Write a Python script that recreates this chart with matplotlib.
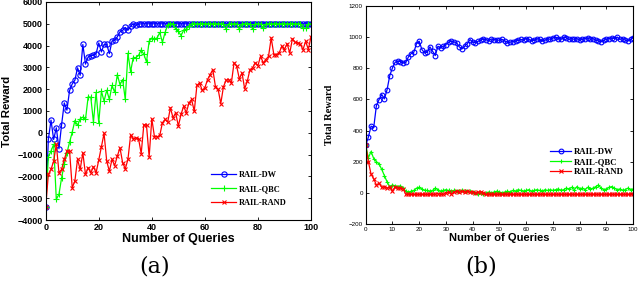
import numpy as np
import matplotlib
matplotlib.use('Agg')
import matplotlib.pyplot as plt

# ---- panel (a) data ----
queries_a = np.arange(0, 101)

dw_a = [-3390, -305, 580, -305, 230, -730, 380, 1370, 1040, 1940,
        2240, 2410, 2980, 2640, 4050, 3150, 3480, 3530, 3560, 3630,
        4120, 3710, 4050, 4060, 3630, 4210, 4240, 4400, 4630, 4700,
        4830, 4700, 4890, 5000, 4930, 4980] + [5000] * 65

qbc_a = [-3390, -1100, -840, -530, -3050, -2820, -2060, -1450, -920, -430,
         30, 560, 340, 640, 720, 610, 1650, 1630, 490, 1860,
         460, 1910, 1450, 1950, 1530, 2170, 1860, 2670, 2210, 2440,
         1530, 3650, 2800, 3450, 3450, 3550, 3800, 3600, 3250, 4200,
         4350, 4300, 4350, 4600, 4150, 4600, 4950, 5000, 5000, 4760,
         4660, 4460, 4700, 4760, 4890, 5000, 5000, 5000, 5000, 5000,
         5000, 5000, 5000, 5000, 5000, 5000, 5000, 5000, 4760, 5000,
         5000, 5000, 5000, 4750, 5000, 5000, 5000, 5000, 4760, 5000,
         5000, 5000, 4790, 5000, 5000, 5000, 5000, 5000, 5000, 5000,
         5000, 5000, 5000, 5000, 5000, 5000, 5000, 4790, 4790, 5000,
         5000]

rand_a = [-3390, -1910, -1680, -1300, -530, -1830, -1680, -1220, -840, -840,
          -2520, -2210, -1220, -1680, -920, -1910, -1600, -1830, -1560, -1830,
          -1250, -640, -30, -1300, -1760, -1220, -1500, -1070, -690, -1370,
          -1650, -1220, -120, -270, -230, -270, -950, 380, 340, -1100,
          640, -180, -180, -120, 460, 610, 490, 1145, 690, 920,
          305, 840, 1220, 920, 1370, 1530, 990, 2170, 2290, 1950,
          2060, 2440, 2670, 2900, 2110, 1990, 1340, 2110, 2410, 2440,
          2290, 3210, 3050, 2470, 2750, 2020, 2370, 2900, 2980, 3210,
          3080, 3510, 3210, 3360, 3510, 4350, 3590, 3590, 3660, 3970,
          3820, 4090, 3660, 4310, 4150, 4120, 4050, 3820, 4200, 3820,
          4400]

# ---- panel (b) data ----
queries_b = np.arange(0, 101)

dw_b = [306, 357, 428, 419, 560, 599, 631, 603, 663, 753,
        802, 838, 845, 843, 834, 838, 873, 894, 903, 958,
        973, 920, 898, 903, 937, 909, 881, 941, 930, 941,
        952, 967, 973, 969, 963, 937, 924, 941, 958, 984,
        967, 963, 973, 980, 988, 984, 975, 988, 984, 980,
        980, 985, 975, 965, 968, 970, 975, 978, 985, 980,
        990, 985, 975, 980, 990, 985, 975, 980, 990, 985,
        995, 1000, 990, 985, 1000, 995, 985, 990, 985, 990,
        980, 985, 990, 995, 985, 990, 980, 975, 970, 980,
        985, 990, 995, 990, 1000, 985, 990, 980, 975, 985,
        995]

qbc_b = [306, 225, 265, 220, 200, 185, 150, 110, 70, 40,
         50, 45, 40, 45, 30, 10, 5, 10, 15, 30,
         35, 25, 15, 15, 10, 15, 30, 20, 10, 15,
         20, 15, 10, 15, 12, 10, 15, 10, 12, 10,
         5, 0, -5, 0, -5, 0, 5, 0, 5, 10,
         5, 0, 5, 10, 5, 15, 10, 20, 15, 10,
         15, 20, 10, 15, 20, 15, 10, 20, 15, 20,
         15, 20, 25, 15, 20, 30, 25, 35, 20, 40,
         25, 30, 20, 35, 25, 30, 40, 50, 30, 20,
         25, 35, 40, 30, 20, 25, 15, 20, 30, 20,
         25]

rand_b = [306, 200, 120, 90, 50, 60, 35, 40, 30, 40,
          10, 40, 30, 30, 25, -10, -10, -10, -10, -10,
          -10, -10, -10, -10, -10, -10, -10, -5, -10, -10,
          0, 5, -5, 5, 10, 5, 10, 5, 10, 5,
          5, 0, 5, 5, 0, -10, -10, -10, -10, -10] + [-10] * 51

labels = ['RAIL-DW', 'RAIL-QBC', 'RAIL-RAND']

fig = plt.figure(figsize=(6.4, 2.81), dpi=100)

# ---------------- (a) ----------------
ax1 = fig.add_axes([0.0714, 0.217, 0.4145, 0.776])
ax1.plot(queries_a, dw_a, color='blue', lw=0.9, marker='o', ms=3.8,
         mfc='none', mew=0.8, label=labels[0])
ax1.plot(queries_a, qbc_a, color='#00ff00', lw=0.9, marker='+', ms=3.8,
         mew=0.8, label=labels[1])
ax1.plot(queries_a, rand_a, color='red', lw=0.9, marker='x', ms=2.6,
         mew=0.8, label=labels[2])
ax1.set_xlim(0, 100)
ax1.set_ylim(-4000, 6000)
ax1.set_xticks(np.arange(0, 101, 20))
ax1.set_yticks(np.arange(-4000, 6001, 1000))
ax1.tick_params(direction='in', top=True, right=True, length=2.5, width=0.6,
                labelsize=6.5, pad=2)
for lab in ax1.get_xticklabels() + ax1.get_yticklabels():
    lab.set_fontfamily('Liberation Sans')
    lab.set_fontweight('bold')
ax1.set_xlabel('Number of Queries', fontsize=9, fontweight='bold',
               fontfamily='Liberation Sans', labelpad=1)
ax1.set_ylabel('Total Reward', fontsize=8.2, fontweight='bold',
               fontfamily='Liberation Sans')
ax1.yaxis.set_label_coords(-0.128, 0.5)
leg1 = ax1.legend(loc='upper left', bbox_to_anchor=(0.625, 0.225), frameon=False,
                  borderaxespad=0, borderpad=0, handlelength=3.0,
                  handletextpad=0.3, labelspacing=0.7,
                  prop={'family': 'Liberation Serif', 'weight': 'bold', 'size': 6})
for sp in ax1.spines.values():
    sp.set_linewidth(0.8)

# ---------------- (b) ----------------
ax2 = fig.add_axes([0.5714, 0.203, 0.418, 0.776])
ax2.plot(queries_b, dw_b, color='blue', lw=0.9, marker='o', ms=3.4,
         mfc='none', mew=0.8, label=labels[0])
ax2.plot(queries_b, qbc_b, color='#00ff00', lw=0.9, marker='+', ms=3.4,
         mew=0.8, label=labels[1])
ax2.plot(queries_b, rand_b, color='red', lw=0.9, marker='x', ms=2.4,
         mew=0.8, label=labels[2])
ax2.set_xlim(0, 100)
ax2.set_ylim(-200, 1200)
ax2.set_xticks(np.arange(0, 101, 10))
ax2.set_yticks(np.arange(-200, 1201, 200))
ax2.tick_params(direction='in', top=True, right=True, length=2.5, width=0.6,
                labelsize=4.5, pad=2)
for lab in ax2.get_xticklabels() + ax2.get_yticklabels():
    lab.set_fontfamily('Liberation Sans')
ax2.set_xlabel('Number of Queries', fontsize=8, fontweight='bold',
               fontfamily='Liberation Sans', labelpad=1)
ax2.set_ylabel('Total Reward', fontsize=7.5, fontweight='bold',
               fontfamily='Liberation Serif')
ax2.yaxis.set_label_coords(-0.12, 0.5)
leg2 = ax2.legend(loc='upper left', bbox_to_anchor=(0.69, 0.35), frameon=False,
                  borderaxespad=0, borderpad=0, handlelength=2.4,
                  handletextpad=0.3, labelspacing=0.25,
                  prop={'family': 'Liberation Serif', 'weight': 'bold', 'size': 6.3})
for sp in ax2.spines.values():
    sp.set_linewidth(0.8)

# panel captions
fig.text(155 / 640, 0.05, '(a)', fontsize=16, fontfamily='DejaVu Serif',
         ha='center', va='center')
fig.text(481 / 640, 0.05, '(b)', fontsize=16, fontfamily='DejaVu Serif',
         ha='center', va='center')

fig.savefig('out.png', dpi=100)
